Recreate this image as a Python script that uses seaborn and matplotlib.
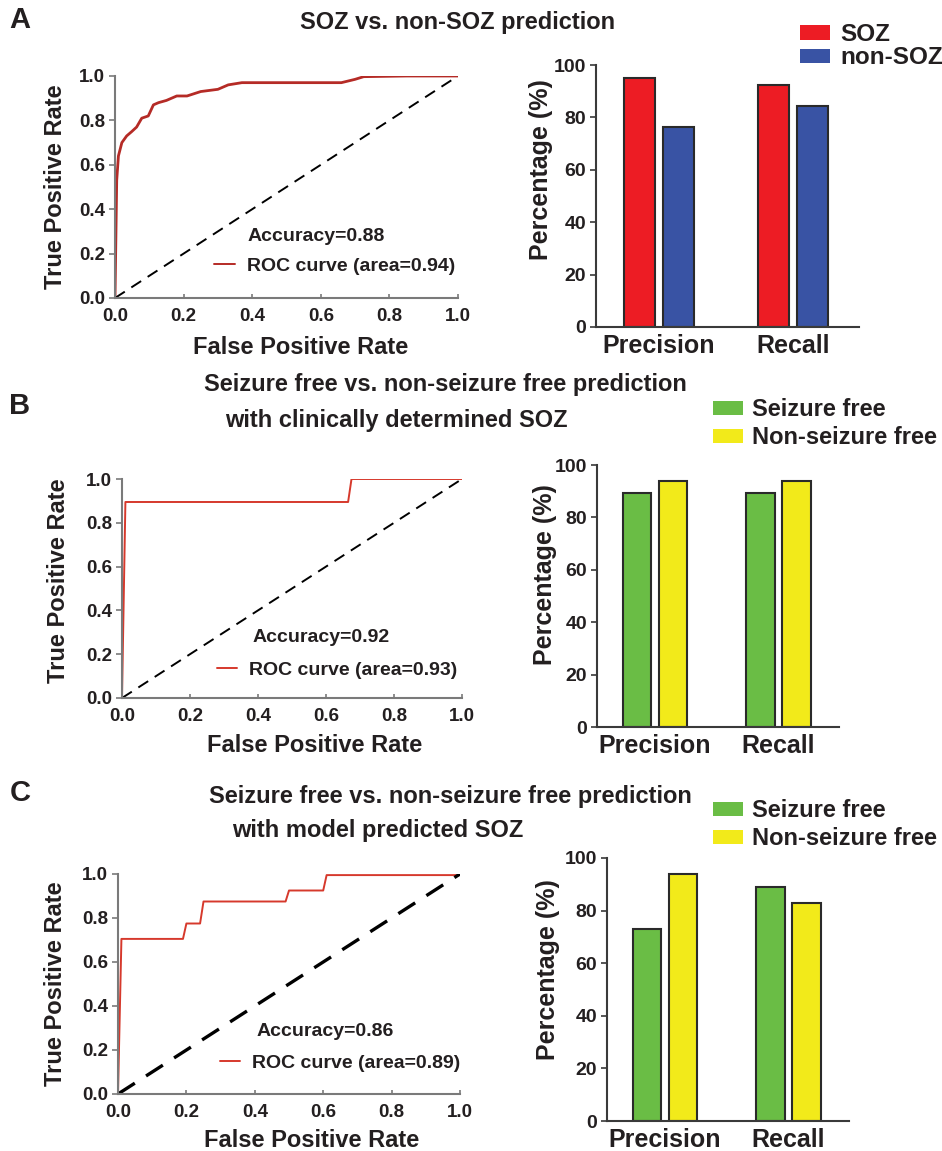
import matplotlib
matplotlib.use("Agg")
import matplotlib.pyplot as plt
from matplotlib import font_manager
from matplotlib.patches import Patch
import seaborn as sns
import pandas as pd

# ---------------- data ----------------
roc_a_fpr = [0.0, 0.005, 0.01, 0.02, 0.034, 0.049, 0.063, 0.078, 0.097, 0.112, 0.127, 0.15, 0.18,
             0.21, 0.25, 0.30, 0.33, 0.37, 0.44, 0.66, 0.70, 0.725, 0.85, 1.0]
roc_a_tpr = [0.0, 0.53, 0.64, 0.70, 0.73, 0.75, 0.77, 0.81, 0.82, 0.87, 0.88, 0.89, 0.91,
             0.91, 0.93, 0.94, 0.96, 0.97, 0.97, 0.97, 0.985, 0.997, 1.0, 1.0]
roc_b_fpr = [0.0, 0.01, 0.665, 0.675, 1.0]
roc_b_tpr = [0.0, 0.895, 0.895, 1.0, 1.0]
roc_c_fpr = [0.0, 0.01, 0.19, 0.20, 0.24, 0.25, 0.49, 0.50, 0.60, 0.61, 1.0]
roc_c_tpr = [0.0, 0.705, 0.705, 0.775, 0.775, 0.875, 0.875, 0.925, 0.925, 0.995, 0.995]

metrics = ["Precision", "Recall"]
groups_a = ["SOZ", "non-SOZ"]
vals_a_soz = [95.2, 92.4]
vals_a_non = [76.2, 84.4]
groups_bc = ["Seizure free", "Non-seizure free"]
vals_b_sf = [89.3, 89.3]
vals_b_nsf = [93.9, 93.9]
vals_c_sf = [73.0, 89.0]
vals_c_nsf = [93.9, 82.9]

acc_labels = ["Accuracy=0.88", "Accuracy=0.92", "Accuracy=0.86"]
roc_labels = ["ROC curve (area=0.94)", "ROC curve (area=0.93)", "ROC curve (area=0.89)"]
xticks_roc = [0.0, 0.2, 0.4, 0.6, 0.8, 1.0]
yticks_bar = [0, 20, 40, 60, 80, 100]

# ---------------- style ----------------
sns.set_theme(style="white")
names = {f.name for f in font_manager.fontManager.ttflist}
fam = "Liberation Sans Narrow" if "Liberation Sans Narrow" in names else "Liberation Sans"
plt.rcParams["font.family"] = [fam, "DejaVu Sans"]
plt.rcParams["font.weight"] = "bold"
plt.rcParams["axes.labelweight"] = "bold"
TXT = "#231f20"
SPINE = "#7a7a7a"

W, H = 942, 1151
fig = plt.figure(figsize=(W / 100, H / 100), dpi=100)


def add_ax(l, t, r, b):
    return fig.add_axes([l / W, 1 - b / H, (r - l) / W, (b - t) / H])


def fx(x):
    return x / W


def fy(y):
    return 1 - y / H


def style_ax(ax, tick_size, spine_col):
    for s in ["top", "right"]:
        ax.spines[s].set_visible(False)
    for s in ["left", "bottom"]:
        ax.spines[s].set_color(spine_col)
        ax.spines[s].set_linewidth(1.5)
    ax.tick_params(axis="both", which="both", direction="out", length=4, width=1.2,
                   color=spine_col, labelsize=tick_size, labelcolor=TXT, pad=3)
    ax.tick_params(left=True, bottom=True)
    for lab in ax.get_xticklabels() + ax.get_yticklabels():
        lab.set_fontweight("bold")


# ---------------- ROC panels ----------------
roc_specs = [
    ((115, 76, 458, 298), roc_a_fpr, roc_a_tpr, "#b52b26", 2.0, (0.54, -0.17), (-0.14, 0.50),
     (0.385, 0.275), (0.29, 0.144), 1.4),
    ((122, 479, 462, 698), roc_b_fpr, roc_b_tpr, "#d6392c", 1.4, (0.568, -0.165), (-0.153, 0.534),
     (0.385, 0.274), (0.279, 0.128), 1.4),
    ((118, 874, 460, 1094), roc_c_fpr, roc_c_tpr, "#d6392c", 1.4, (0.567, -0.16), (-0.149, 0.50),
     (0.406, 0.282), (0.298, 0.141), 2.4),
]
for i, (rect, fpr, tpr, col, lw, xl, yl, accpos, legpos, dlw) in enumerate(roc_specs):
    ax = add_ax(*rect)
    df = pd.DataFrame({"fpr": fpr, "tpr": tpr})
    sns.lineplot(data=df, x="fpr", y="tpr", sort=False, estimator=None, color=col,
                 linewidth=lw, ax=ax, label=roc_labels[i])
    ax.plot([0, 1], [0, 1], linestyle=(0, (6, 4)), color="black", linewidth=dlw)
    ax.set_xlim(0, 1.0)
    ax.set_ylim(0, 1.0)
    ax.set_xticks(xticks_roc)
    ax.set_yticks(xticks_roc)
    ax.set_xticklabels([f"{v:.1f}" for v in xticks_roc])
    ax.set_yticklabels([f"{v:.1f}" for v in xticks_roc])
    ax.set_xlabel("False Positive Rate", fontsize=17, color=TXT)
    ax.set_ylabel("True Positive Rate", fontsize=17, color=TXT)
    style_ax(ax, 13.5, SPINE)
    ax.tick_params(axis="x", direction="in", length=3, pad=7)
    ax.xaxis.set_label_coords(*xl)
    ax.yaxis.set_label_coords(*yl)
    ax.text(accpos[0], accpos[1], acc_labels[i], transform=ax.transAxes, fontsize=14,
            fontweight="bold", color=TXT, ha="left", va="center")
    leg = ax.legend(loc="center left", bbox_to_anchor=legpos, frameon=False, fontsize=14,
                    handlelength=1.05, handletextpad=0.6, borderpad=0, borderaxespad=0)
    for t in leg.get_texts():
        t.set_fontweight("bold")
        t.set_color(TXT)
    for ln in leg.get_lines():
        ln.set_linewidth(1.4)

# ---------------- bar panels ----------------
bar_specs = [
    ((596, 65, 859, 327), groups_a, [vals_a_soz, vals_a_non], ["#ed1c24", "#3953a4"], (-0.163, 0.60)),
    ((597, 465, 839, 727), groups_bc, [vals_b_sf, vals_b_nsf], ["#6abd45", "#f2ea1a"], (-0.165, 0.58)),
    ((607, 858, 849, 1121), groups_bc, [vals_c_sf, vals_c_nsf], ["#6abd45", "#f2ea1a"], (-0.194, 0.574)),
]
for rect, groups, vals, cols, yl in bar_specs:
    ax = add_ax(*rect)
    rows = []
    for g, vs in zip(groups, vals):
        for m, v in zip(metrics, vs):
            rows.append({"metric": m, "group": g, "value": v})
    df = pd.DataFrame(rows)
    sns.barplot(data=df, x="metric", y="value", hue="group", hue_order=groups, order=metrics,
                palette=dict(zip(groups, cols)), width=0.58, gap=0.2, edgecolor="#2a2a2a",
                linewidth=1.5, saturation=1, legend=False, errorbar=None, ax=ax)
    ax.set_xlim(-0.47, 1.49)
    ax.set_ylim(0, 100)
    ax.set_yticks(yticks_bar)
    ax.set_xlabel("")
    ax.set_ylabel("Percentage (%)", fontsize=18, color=TXT)
    style_ax(ax, 14, "#3a3a3a")
    ax.tick_params(axis="x", length=0, labelsize=18, pad=5)
    ax.yaxis.set_label_coords(*yl)

# ---------------- legends ----------------
leg_specs = [
    (groups_a, ["#ed1c24", "#3953a4"], (800, 23), 17.5, 0.02),
    (groups_bc, ["#6abd45", "#f2ea1a"], (713, 398), 17, 0.22),
    (groups_bc, ["#6abd45", "#f2ea1a"], (713, 799), 17, 0.22),
]
for groups, cols, (lx, ly), fs, ls in leg_specs:
    handles = [Patch(facecolor=c, edgecolor="none", label=g) for g, c in zip(groups, cols)]
    lg = fig.legend(handles=handles, loc="upper left", bbox_to_anchor=(fx(lx), fy(ly)),
                    frameon=False, fontsize=fs, handlelength=1.25, handleheight=0.55,
                    handletextpad=0.4, labelspacing=ls, borderpad=0, borderaxespad=0)
    for t in lg.get_texts():
        t.set_fontweight("bold")
        t.set_color(TXT)

# ---------------- titles and panel letters ----------------
tkw = dict(fontsize=17, fontweight="bold", color=TXT)
fig.text(fx(458), fy(22), "SOZ vs. non-SOZ prediction", ha="center", va="center", **tkw)
fig.text(fx(445), fy(385), "Seizure free vs. non-seizure free prediction", ha="center", va="center", **tkw)
fig.text(fx(225), fy(420), "with clinically determined SOZ", ha="left", va="center", **tkw)
fig.text(fx(450), fy(797), "Seizure free vs. non-seizure free prediction", ha="center", va="center", **tkw)
fig.text(fx(232), fy(831), "with model predicted SOZ", ha="left", va="center", **tkw)

pkw = dict(fontsize=21, fontweight="bold", color=TXT, ha="center", va="center")
fig.text(fx(20), fy(20), "A", **pkw)
fig.text(fx(20), fy(406), "B", **pkw)
fig.text(fx(20), fy(793), "C", **pkw)

fig.savefig("out.png", dpi=100, facecolor="white")
